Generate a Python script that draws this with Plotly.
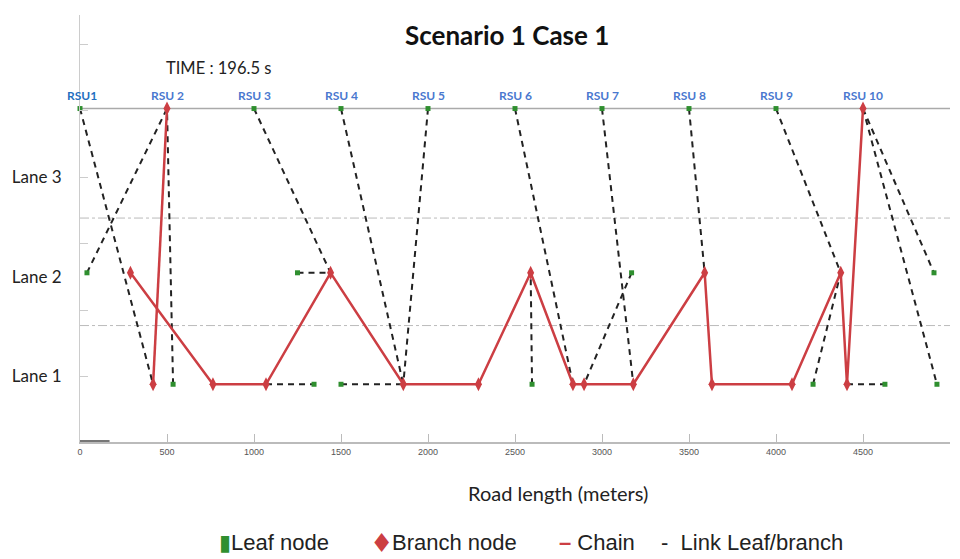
import plotly.graph_objects as go

# Lane levels (data units: Lane 1 = 1, Lane 2 = 2, Lane 3 = 3)
LANE1_Y = 0.92
LANE2_Y = 2.04
RSU_Y = 3.69

# RSUs along the top
rsu_x = [0, 500, 1000, 1500, 2000, 2500, 3000, 3500, 4000, 4500]
rsu_labels = ['RSU1', 'RSU 2', 'RSU 3', 'RSU 4', 'RSU 5', 'RSU 6', 'RSU 7', 'RSU 8', 'RSU 9', 'RSU 10']

# Leaf nodes
leaf_x = [0, 1000, 1500, 2000, 2500, 3000, 3500, 4000,
          40, 1250, 3170, 4908,
          535, 1345, 1500, 2598, 4213, 4626, 4925]
leaf_y = [RSU_Y] * 8 + [LANE2_Y] * 4 + [LANE1_Y] * 7

# Branch nodes
branch_x = [500, 4500,
            290, 1440, 2590, 3590, 4372,
            420, 764, 1069, 1858, 2290, 2833, 2897, 3180, 3632, 4092, 4408]
branch_y = [RSU_Y] * 2 + [LANE2_Y] * 5 + [LANE1_Y] * 11

# Chain (red line), None breaks the polyline
chain_x = [500, 420, None,
           290, 764, 1069, 1440, 1858, 2290, 2590, 2833, 2897, 3180,
           3590, 3632, 4092, 4372, 4408, 4500]
chain_y = [RSU_Y, LANE1_Y, None,
           LANE2_Y, LANE1_Y, LANE1_Y, LANE2_Y, LANE1_Y, LANE1_Y, LANE2_Y, LANE1_Y, LANE1_Y, LANE1_Y,
           LANE2_Y, LANE1_Y, LANE1_Y, LANE2_Y, LANE1_Y, RSU_Y]

# Links leaf/branch: (x0, y0, x1, y1)
links = [
    (0, RSU_Y, 420, LANE1_Y),
    (40, LANE2_Y, 500, RSU_Y),
    (535, LANE1_Y, 500, RSU_Y),
    (1000, RSU_Y, 1440, LANE2_Y),
    (1250, LANE2_Y, 1440, LANE2_Y),
    (1069, LANE1_Y, 1345, LANE1_Y),
    (1500, RSU_Y, 1858, LANE1_Y),
    (2000, RSU_Y, 1858, LANE1_Y),
    (1500, LANE1_Y, 1858, LANE1_Y),
    (2500, RSU_Y, 2833, LANE1_Y),
    (2598, LANE1_Y, 2590, LANE2_Y),
    (3000, RSU_Y, 3180, LANE1_Y),
    (3170, LANE2_Y, 2897, LANE1_Y),
    (3500, RSU_Y, 3590, LANE2_Y),
    (4000, RSU_Y, 4372, LANE2_Y),
    (4213, LANE1_Y, 4372, LANE2_Y),
    (4408, LANE1_Y, 4626, LANE1_Y),
    (4500, RSU_Y, 4908, LANE2_Y),
    (4500, RSU_Y, 4925, LANE1_Y),
]

x_ticks = [0, 500, 1000, 1500, 2000, 2500, 3000, 3500, 4000, 4500, 5000]
lane_vals = [1, 2, 3]
lane_text = ['Lane 1', 'Lane 2', 'Lane 3']

RED = '#CC3E43'
GREEN = '#2F8F2F'

link_x, link_y = [], []
for x0, y0, x1, y1 in links:
    link_x += [x0, x1, None]
    link_y += [y0, y1, None]

fig = go.Figure()

fig.add_trace(go.Scatter(
    x=link_x, y=link_y, mode='lines', name='Link Leaf/branch',
    line=dict(color='#222222', width=2, dash='6px,5px'), hoverinfo='skip'
))
fig.add_trace(go.Scatter(
    x=chain_x, y=chain_y, mode='lines', name='Chain',
    line=dict(color=RED, width=2.5), hoverinfo='skip'
))
fig.add_trace(go.Scatter(
    x=leaf_x, y=leaf_y, mode='markers', name='Leaf node',
    marker=dict(symbol='square', size=5, color=GREEN), cliponaxis=False
))
fig.add_trace(go.Scatter(
    x=branch_x, y=branch_y, mode='markers', name='Branch node',
    marker=dict(symbol='diamond-tall', size=10, color=RED), cliponaxis=False
))

# lane separators and RSU line
for yv in [2.59, 1.51]:
    fig.add_shape(type='line', xref='x', yref='y', x0=0, x1=5000, y0=yv, y1=yv,
                  line=dict(color='#BBBBBB', width=1, dash='dashdot'), layer='below')
fig.add_shape(type='line', xref='x', yref='y', x0=0, x1=5000, y0=RSU_Y, y1=RSU_Y,
              line=dict(color='#AAAAAA', width=1.5), layer='below')
fig.add_shape(type='line', xref='x', yref='y', x0=0, x1=170, y0=0.345, y1=0.345,
              line=dict(color='#777777', width=3))

# RSU labels
for i, (xv, lab) in enumerate(zip(rsu_x, rsu_labels)):
    fig.add_annotation(
        x=xv, y=RSU_Y, text='<b>%s</b>' % lab, showarrow=False, yshift=13,
        xshift=2 if i == 0 else 0, xanchor='center', yanchor='middle',
        font=dict(family='Lato, sans-serif', size=12, color='#1F6FC0' if i == 0 else '#4A78CF')
    )

fig.add_annotation(
    x=0.491, y=0.953, xref='paper', yref='paper', text='<b>Scenario 1 Case 1</b>',
    showarrow=False, xanchor='center', yanchor='middle',
    font=dict(family='Lato, sans-serif', size=26, color='#111111')
)
fig.add_annotation(
    x=0.159, y=0.876, xref='paper', yref='paper', text='TIME : 196.5 s',
    showarrow=False, xanchor='center', yanchor='middle',
    font=dict(family='Lato, sans-serif', size=16.5, color='#222222')
)
fig.add_annotation(
    x=0.549, y=-0.119, xref='paper', yref='paper', text='Road length (meters)',
    showarrow=False, xanchor='center', yanchor='middle',
    font=dict(family='Lato, sans-serif', size=20, color='#222222')
)

# legend drawn as a row of text items
NB = '\u00a0'
legend_items = [
    (0.1575, '<span style="color:%s">\u25ae</span>Leaf node' % GREEN),
    (0.3563, 'Branch node'),
    (0.548, '<span style="color:%s"><b>\u2013</b></span>%sChain' % (RED, NB)),
    (0.665, '-%sLink Leaf/branch' % (NB * 2)),
]
for xp, txt in legend_items:
    fig.add_annotation(
        x=xp, y=-0.2365, xref='paper', yref='paper', text=txt, showarrow=False,
        xanchor='left', yanchor='middle',
        font=dict(family='Liberation Sans, Arial, sans-serif', size=22, color='#222222')
    )
fig.add_annotation(
    x=0.3563, y=-0.2365, xref='paper', yref='paper', text='\u2666', showarrow=False,
    xanchor='right', yanchor='middle', xshift=5,
    font=dict(family='DejaVu Sans, sans-serif', size=26, color=RED)
)

# the page adds an 8px body margin, so the figure is drawn 8px smaller
fig.update_layout(
    width=952, height=551,
    margin=dict(l=72, r=10, t=7, b=117, autoexpand=False),
    plot_bgcolor='white', paper_bgcolor='white',
    showlegend=False,
    xaxis=dict(
        range=[0, 5000], tickvals=x_ticks, showgrid=False, zeroline=False, automargin=False,
        showline=True, linecolor='#BBBBBB', linewidth=2,
        ticks='inside', ticklen=8, tickcolor='#BBBBBB',
        tickfont=dict(family='Liberation Sans Narrow, Arial Narrow, sans-serif', size=9, color='#555555')
    ),
    yaxis=dict(
        range=[0.34, 4.63], tickvals=lane_vals, ticktext=lane_text, ticks='',
        showgrid=False, zeroline=False, automargin=False,
        showline=True, linecolor='#CCCCCC', linewidth=1, ticklabelstandoff=14,
        tickfont=dict(family='Lato, sans-serif', size=17, color='#222222'),
        minor=dict(tickmode='array', tickvals=[1, 1.66, 2.33, 3.0, 3.67, 4.33],
                   ticks='inside', ticklen=8, tickcolor='#CCCCCC')
    ),
)

fig.write_html('out.html')
